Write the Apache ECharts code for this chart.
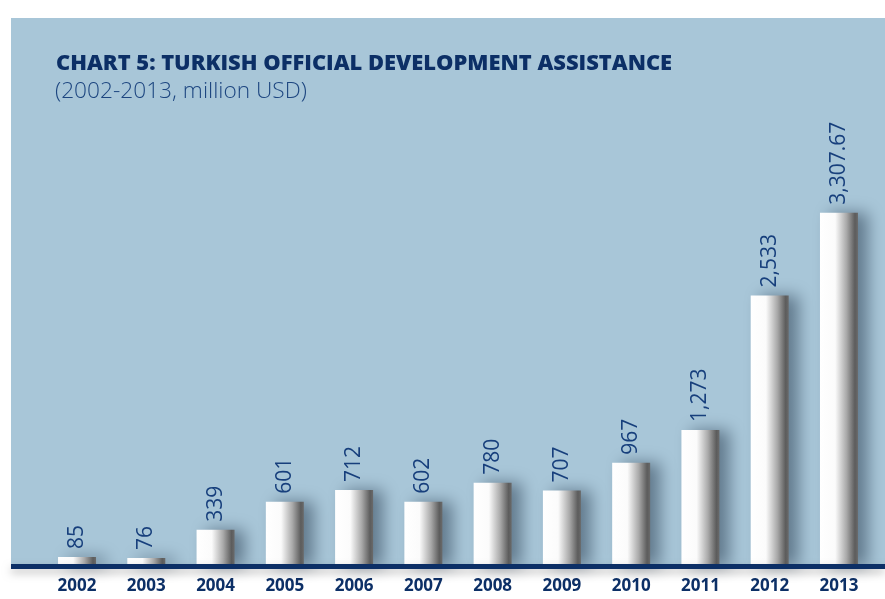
<!DOCTYPE html>
<html>
<head>
<meta charset="utf-8">
<script src="https://cdn.jsdelivr.net/npm/echarts@6/dist/echarts.min.js"></script>
<style>html,body{margin:0;padding:0;background:#fff;}#c{width:885px;height:599px;}</style>
</head>
<body>
<div id="c"></div>
<script>
var years = ['2002','2003','2004','2005','2006','2007','2008','2009','2010','2011','2012','2013'];
var values = [85, 76, 339, 601, 712, 602, 780, 707, 967, 1273, 2533, 3307.67];
var valueLabels = ['85','76','339','601','712','602','780','707','967','1,273','2,533','3,307.67'];
var titleText = 'CHART 5: TURKISH OFFICIAL DEVELOPMENT ASSISTANCE';
var subtitleText = '(2002-2013, million USD)';

var chart = echarts.init(document.getElementById('c'));
var navy = '#0c2f66';
chart.setOption({
  animation: false,
  backgroundColor: '#ffffff',
  graphic: [
    { type: 'rect', z: -10, shape: { x: 11, y: 18, width: 874, height: 547 }, style: { fill: '#a8c6d8' } },
    { type: 'rect', z: 100, shape: { x: 11, y: 564, width: 874, height: 5 },
      style: { fill: navy, shadowBlur: 8, shadowOffsetY: 4, shadowColor: 'rgba(0,0,0,0.25)' } },
    { type: 'text', z: 100, left: 56, top: 53,
      style: { text: titleText, font: '800 21.9px "Open Sans", sans-serif', fill: navy } },
    { type: 'text', z: 100, left: 55, top: 80,
      style: { text: subtitleText, font: '300 22.7px "Open Sans", sans-serif', fill: '#1d4680' } }
  ],
  grid: { left: 42.4, right: 11.4, top: 32, bottom: 33, containLabel: false },
  xAxis: {
    type: 'category', data: years,
    axisLine: { show: false }, axisTick: { show: false },
    axisLabel: { margin: 12, color: navy, fontWeight: 'bold', fontSize: 17, fontFamily: 'Open Sans' }
  },
  yAxis: { type: 'value', min: 0, max: 5000, show: false, splitLine: { show: false } },
  series: [{
    type: 'bar', data: values, barWidth: 38,
    itemStyle: {
      color: new echarts.graphic.LinearGradient(0, 0, 1, 0, [
        { offset: 0, color: '#ffffff' },
        { offset: 0.4, color: '#fbfbfb' },
        { offset: 0.7, color: '#a9a9a9' },
        { offset: 0.92, color: '#5c5c5c' },
        { offset: 1, color: '#6a6a6a' }
      ]),
      shadowBlur: 16, shadowOffsetX: 10, shadowOffsetY: 0, shadowColor: 'rgba(40,60,80,0.55)'
    },
    label: {
      show: true, position: 'top', rotate: 90, align: 'left', verticalAlign: 'middle', distance: 8,
      color: '#173f7c', fontSize: 21, fontFamily: 'Open Sans',
      formatter: function (p) { return valueLabels[p.dataIndex]; }
    }
  }]
});
</script>
</body>
</html>
